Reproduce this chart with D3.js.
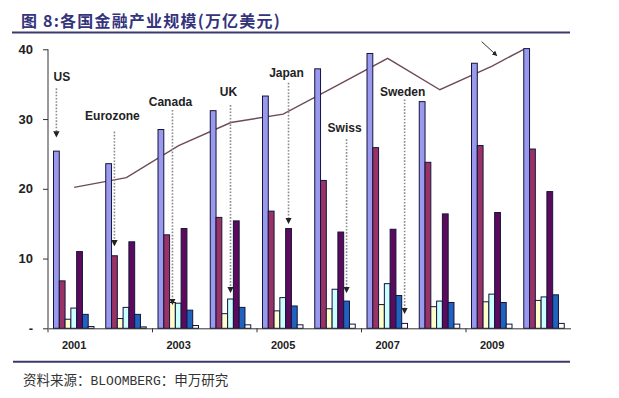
<!DOCTYPE html>
<meta charset="utf-8">
<head>
  <title>各国金融产业规模</title>
</head>

<style>
  body {
    margin: 0;
    background: #fff;
    font-family: "Liberation Sans", Arial, sans-serif;
  }
  .title {
    font-family: "Noto Sans CJK SC", sans-serif;
    font-size: 16px;
    font-weight: bold;
    letter-spacing: 1.2px;
    fill: #34347c;
  }
  .source {
    font-family: "Noto Sans CJK SC", sans-serif;
    font-size: 13.5px;
    fill: #333;
  }
  .axis text {
    font-family: "Liberation Sans", Arial, sans-serif;
    font-weight: bold;
    fill: #222;
  }
  .axis path, .axis line {
    stroke: #333;
  }
  .country {
    font-size: 12px;
    font-weight: bold;
    fill: #222;
  }
</style>

<body>
<svg width="619" height="398">
  <g id="wrapper"></g>
</svg>

<script src="https://cdnjs.cloudflare.com/ajax/libs/d3/7.8.5/d3.min.js"></script>
<script>
  // values (万亿美元)
  var years = [2001, 2002, 2003, 2004, 2005, 2006, 2007, 2008, 2009, 2010];
  var yearLabels = ["2001", "2003", "2005", "2007", "2009"];
  var countries = ["US", "Eurozone", "Canada", "UK", "Japan", "Swiss", "Sweden"];

  var us       = [25.4, 23.6, 28.5, 31.2, 33.3, 37.2, 39.4, 32.5, 38.0, 40.1];
  var eurozone = [6.8, 10.4, 13.4, 15.9, 16.8, 21.2, 25.9, 23.8, 26.2, 25.7];
  var canada   = [1.3, 1.4, 3.7, 2.1, 2.5, 2.8, 3.4, 3.1, 3.8, 4.0];
  var uk       = [2.9, 3.0, 3.6, 4.2, 4.4, 5.6, 6.4, 3.9, 4.9, 4.5];
  var japan    = [11.0, 12.4, 14.3, 15.4, 14.3, 13.8, 14.2, 16.4, 16.6, 19.6];
  var swiss    = [2.0, 2.0, 2.6, 3.0, 3.2, 3.9, 4.7, 3.7, 3.7, 4.8];
  var sweden   = [0.25, 0.2, 0.4, 0.5, 0.5, 0.6, 0.7, 0.6, 0.6, 0.7];
  var trend    = [20.2, 21.6, 26.2, 29.5, 30.7, 34.7, 38.7, 34.2, 37.6, 40.0];

  var yTicks = [0, 10, 20, 30, 40];

  // which bar each country label points at, heights in data units
  var labelYear  = [2001, 2002, 2003, 2004, 2005, 2006, 2007];
  var labelText  = [35.4, 29.8, 31.9, 33.3, 36.1, 28.2, 33.3];
  var arrowFrom  = [34.4, 28.2, 31.3, 32.0, 35.2, 27.1, 32.8];
  var arrowTo    = [27.8, 12.2, 3.8, 5.5, 15.4, 5.5, 2.5];

  var series = [us, eurozone, canada, uk, japan, swiss, sweden];
  var colors = ["#9999ee", "#993366", "#ffffcc", "#ccffff", "#5c0a5c", "#1f63bf", "#ffffff"];

  var svg = d3.select("svg");
  var g = d3.select("#wrapper");

  var x = d3.scaleBand()
    .domain(years)
    .range([48, 570.5]);

  var inner = d3.scaleBand()
    .domain(countries)
    .range([5.5, 46]);

  var y = d3.scaleLinear()
    .domain([0, 40])
    .range([328.3, 49.3]);

  // title + rules
  svg.append("text")
    .attr("class", "title")
    .attr("x", 21)
    .attr("y", 27)
    .text("图 8:各国金融产业规模(万亿美元)");

  svg.append("line")
    .attr("x1", 12).attr("x2", 570)
    .attr("y1", 32.5).attr("y2", 32.5)
    .style("stroke", "#3a3a6e")
    .style("stroke-width", 2);

  svg.append("line")
    .attr("x1", 13).attr("x2", 570)
    .attr("y1", 361.7).attr("y2", 361.7)
    .style("stroke", "#3a3a6e")
    .style("stroke-width", 2);

  var src = svg.append("text")
    .attr("class", "source")
    .attr("x", 23)
    .attr("y", 385);
  src.append("tspan").text("资料来源：");
  src.append("tspan").style("font-family", "'Liberation Mono', monospace").style("font-size", "13px").text("BLOOMBERG");
  src.append("tspan").text("：申万研究");

  // markers
  var defs = svg.append("defs");
  defs.append("marker")
    .attr("id", "dothead")
    .attr("viewBox", "0 0 10 10")
    .attr("refX", 5).attr("refY", 5)
    .attr("markerWidth", 4).attr("markerHeight", 4)
    .attr("orient", "auto")
    .append("path")
    .attr("d", "M0,0L10,5L0,10z")
    .style("fill", "#222");

  defs.append("marker")
    .attr("id", "blackhead")
    .attr("viewBox", "0 0 10 10")
    .attr("refX", 9).attr("refY", 5)
    .attr("markerWidth", 5).attr("markerHeight", 5)
    .attr("orient", "auto")
    .append("path")
    .attr("d", "M0,0L10,5L0,10z")
    .style("fill", "#222");

  // trend line (drawn under the bars, it stops at the last US bar)
  var trendPts = years.map(function(yr, i) {
    var px = x(yr) + x.bandwidth() / 2;
    if (i === years.length - 1) px = x(yr) + inner("US");
    return [px, y(trend[i])];
  });

  g.append("path")
    .datum(trendPts)
    .attr("d", d3.line())
    .style("fill", "none")
    .style("stroke", "#6e4a5c")
    .style("stroke-width", 1.4);

  // bars
  var groups = g.selectAll(".year")
    .data(years)
    .enter()
    .append("g")
    .attr("class", "year")
    .attr("transform", function(d) { return "translate(" + x(d) + ",0)"; });

  groups.selectAll("rect")
    .data(function(d, i) {
      return countries.map(function(c, j) {
        return { country: c, value: series[j][i], color: colors[j] };
      });
    })
    .enter()
    .append("rect")
    .attr("x", function(d) { return inner(d.country); })
    .attr("y", function(d) { return y(d.value); })
    .attr("width", inner.bandwidth())
    .attr("height", function(d) { return y(0) - y(d.value); })
    .style("fill", function(d) { return d.color; })
    .style("stroke", "#14143c")
    .style("stroke-width", 1);

  // axes
  var yAxis = d3.axisLeft(y)
    .tickValues(yTicks)
    .tickSize(5)
    .tickPadding(10)
    .tickFormat(function(d) { return d === 0 ? "-" : d; });

  g.append("g")
    .attr("class", "axis")
    .attr("transform", "translate(48,0)")
    .call(yAxis)
    .call(function(a) {
      a.select(".domain").attr("d", "M0," + y(40) + "V" + y(0));
      a.selectAll("text").style("font-size", "13px");
    });

  var xAxis = d3.axisBottom(x)
    .tickValues([])
    .tickSizeOuter(0);

  var xg = g.append("g")
    .attr("class", "axis")
    .attr("transform", "translate(0," + y(0) + ")")
    .call(xAxis);

  xg.selectAll(".tk")
    .data(years.filter(function(d, i) { return i % 2 === 0; }))
    .enter()
    .append("line")
    .attr("x1", function(d) { return x(d); })
    .attr("x2", function(d) { return x(d); })
    .attr("y1", 0).attr("y2", 4)
    .style("stroke", "#333");

  xg.selectAll(".yl")
    .data(yearLabels)
    .enter()
    .append("text")
    .attr("x", function(d) { return x(+d) + x.bandwidth() / 2; })
    .attr("y", 21)
    .attr("text-anchor", "middle")
    .style("font-size", "11px")
    .text(function(d) { return d; });

  // country labels with dotted arrows
  countries.forEach(function(c, i) {
    var cx = x(labelYear[i]) + inner(c) + inner.bandwidth() / 2;
    var t = g.append("text")
      .attr("class", "country")
      .attr("y", y(labelText[i]))
      .text(c);
    if (i === 0) {
      t.attr("x", x(labelYear[i]) + inner(c)).attr("text-anchor", "start");
    } else {
      t.attr("x", cx - 2).attr("text-anchor", "middle");
    }

    g.append("line")
      .attr("x1", cx).attr("x2", cx)
      .attr("y1", y(arrowFrom[i]))
      .attr("y2", y(arrowTo[i]))
      .style("stroke", "#8a8a8a")
      .style("stroke-width", 1.6)
      .style("stroke-dasharray", "1.6,1.6")
      .attr("marker-end", "url(#dothead)");
  });

  // short pointer to the trend line
  g.append("line")
    .attr("x1", x(2009) + 0.30 * x.bandwidth())
    .attr("y1", y(41.1))
    .attr("x2", x(2009) + 0.59 * x.bandwidth())
    .attr("y2", y(39.1))
    .style("stroke", "#333")
    .style("stroke-width", 1)
    .attr("marker-end", "url(#blackhead)");
</script>
</body>
</html>
